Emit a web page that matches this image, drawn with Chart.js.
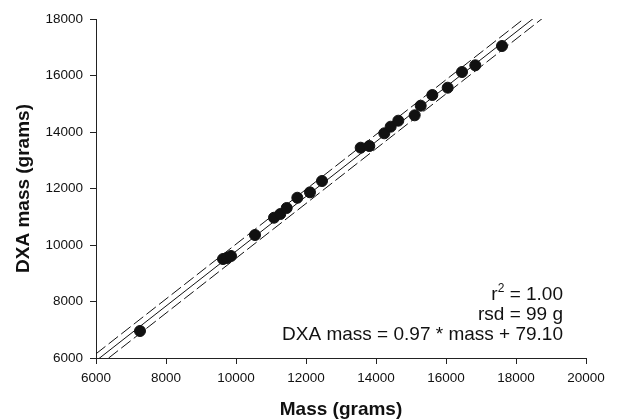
<!DOCTYPE html>
<html>
<head>
<meta charset="utf-8">
<script src="https://cdn.jsdelivr.net/npm/chart.js@4/dist/chart.umd.min.js"></script>
<style>
  html, body { margin: 0; padding: 0; background: #fff; }
  #wrap { width: 617px; height: 419px; }
</style>
</head>
<body>
<div id="wrap"><canvas id="dxaChart" width="617" height="419"></canvas></div>
<script>
const massX = [7257, 9629, 9740, 9857, 10543, 11086, 11266, 11448, 11752, 12114, 12457,
               13562, 13809, 14237, 14419, 14637, 15105, 15277, 15609, 16048, 16457, 16837, 17600];
const dxaY  = [6956, 9504, 9540, 9611, 10354, 10966, 11097, 11310, 11673, 11865, 12265,
               13444, 13504, 13954, 14188, 14400, 14591, 14931, 15310, 15568, 16124, 16361, 17044];

// regression line and dashed band endpoints
const lineX  = [6000, 19000];
const fitY   = [5899, 18509];
const upperY = [6149, 18759];
const lowerY = [5649, 18259];

const xTicks = [6000, 8000, 10000, 12000, 14000, 16000, 18000, 20000];
const yTicks = [6000, 8000, 10000, 12000, 14000, 16000, 18000];

const statLines = ['r2 = 1.00', 'rsd = 99 g', 'DXA mass = 0.97 * mass + 79.10'];

const FONT = '"Liberation Sans", Arial, Helvetica, sans-serif';

function pts(xs, ys) {
    return xs.map((x, i) => ({ x: x, y: ys[i] }));
}

function lineSet(ys, dash) {
    return {
        type: 'scatter',
        data: pts(lineX, ys),
        showLine: true,
        borderColor: '#111',
        borderWidth: 1,
        borderDash: dash,
        pointRadius: 0,
        pointHoverRadius: 0
    };
}

// stats text in the lower right corner
const statsText = {
    id: 'statsText',
    afterDraw(chart) {
        const ctx = chart.ctx;
        const area = chart.chartArea;
        const right = area.right - 23;
        const base = area.bottom - 58;
        ctx.save();
        ctx.fillStyle = '#111';
        ctx.textBaseline = 'alphabetic';
        ctx.font = '19px ' + FONT;

        // first line with superscript
        const rest = ' = 1.00';
        ctx.textAlign = 'left';
        const wRest = ctx.measureText(rest).width;
        const wR = ctx.measureText('r').width;
        ctx.font = '12px ' + FONT;
        const wSup = ctx.measureText('2').width;
        let x = right - wRest - wSup - wR;
        ctx.font = '19px ' + FONT;
        ctx.fillText('r', x, base);
        ctx.font = '12px ' + FONT;
        ctx.fillText('2', x + wR, base - 8);
        ctx.font = '19px ' + FONT;
        ctx.fillText(rest, x + wR + wSup, base);

        ctx.textAlign = 'right';
        ctx.fillText(statLines[1], right, base + 20);
        ctx.fillText(statLines[2], right, base + 40);
        ctx.restore();
    }
};

const axisCommon = {
    border: { display: true, color: '#222', width: 1 },
    grid: { display: true, drawOnChartArea: false, drawTicks: true, tickLength: 6, color: '#222' }
};

new Chart(document.getElementById('dxaChart').getContext('2d'), {
    type: 'scatter',
    data: {
        datasets: [
            {
                data: pts(massX, dxaY),
                backgroundColor: '#111',
                borderColor: '#111',
                pointRadius: 5.5,
                pointHoverRadius: 5.5
            },
            lineSet(fitY, []),
            lineSet(upperY, [12, 4]),
            lineSet(lowerY, [12, 4])
        ]
    },
    options: {
        responsive: false,
        animation: false,
        devicePixelRatio: 1,
        layout: { padding: { left: 0, top: 19, right: 31, bottom: 0 } },
        plugins: {
            legend: { display: false },
            tooltip: { enabled: false }
        },
        scales: {
            x: {
                ...axisCommon,
                type: 'linear',
                min: 6000,
                max: 20000,
                afterBuildTicks: s => { s.ticks = xTicks.map(v => ({ value: v })); },
                afterFit: s => { s.height = 61; },
                ticks: {
                    color: '#111',
                    padding: 6,
                    maxRotation: 0,
                    font: { family: FONT, size: 13.5 },
                    callback: v => String(v)
                },
                title: {
                    display: true,
                    text: 'Mass (grams)',
                    color: '#111',
                    padding: { top: 0, bottom: 0 },
                    font: { family: FONT, size: 19, weight: 'bold', lineHeight: 1 }
                }
            },
            y: {
                ...axisCommon,
                type: 'linear',
                min: 6000,
                max: 18000,
                afterBuildTicks: s => { s.ticks = yTicks.map(v => ({ value: v })); },
                afterFit: s => { s.width = 96; },
                ticks: {
                    color: '#111',
                    padding: 7,
                    font: { family: FONT, size: 13.5 },
                    callback: v => String(v)
                },
                title: {
                    display: true,
                    text: 'DXA mass (grams)',
                    color: '#111',
                    padding: { top: 14, bottom: 0 },
                    font: { family: FONT, size: 19, weight: 'bold', lineHeight: 1 }
                }
            }
        }
    },
    plugins: [statsText]
});
</script>
</body>
</html>
